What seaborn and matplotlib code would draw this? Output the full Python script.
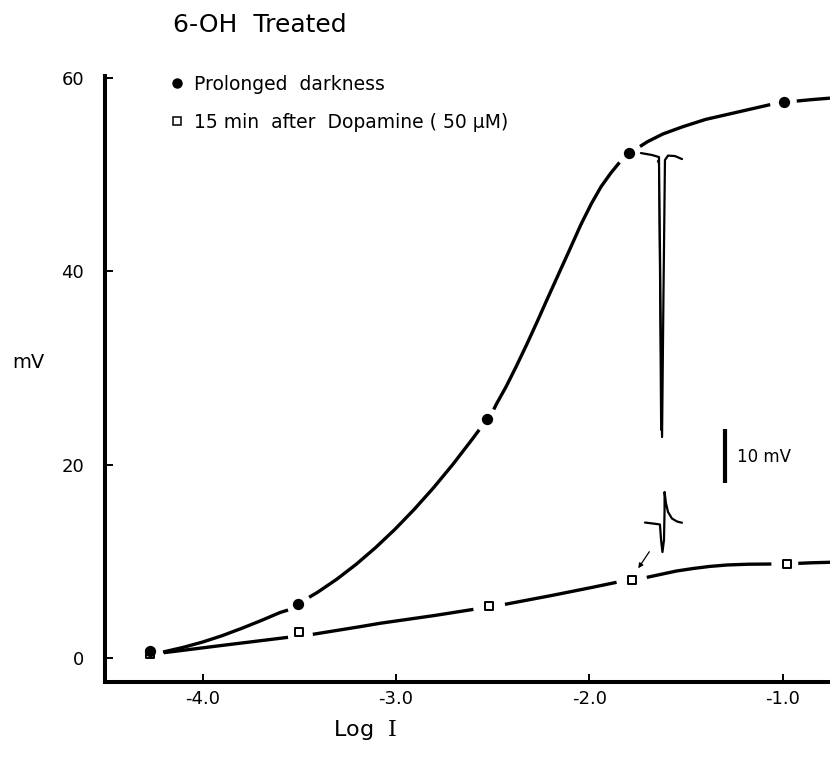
import matplotlib
matplotlib.use("Agg")
import matplotlib.pyplot as plt
import seaborn as sns
from matplotlib.lines import Line2D

# ---- data ----
dark_x = [-4.27, -3.506, -2.531, -1.794, -0.995]
dark_y = [0.75, 5.6, 24.7, 52.2, 57.5]
dopa_x = [-4.27, -3.50, -2.518, -1.782, -0.978]
dopa_y = [0.45, 2.66, 5.38, 8.07, 9.69]

# hand-drawn curves, read piece by piece (they break around each symbol)
dark_curve_x = [
    [-4.204, -4.10, -4.00, -3.90, -3.80, -3.70, -3.60, -3.558],
    [-3.449, -3.406, -3.306, -3.206, -3.106, -3.006, -2.906, -2.806, -2.706, -2.606, -2.57],
    [-2.495, -2.48, -2.43, -2.38, -2.325, -2.27, -2.221, -2.16, -2.101, -2.045, -1.99,
     -1.94, -1.89, -1.845],
    [-1.739, -1.70, -1.62, -1.517, -1.40, -1.258, -1.16, -1.066],
    [-0.929, -0.85, -0.757],
]
dark_curve_y = [
    [0.62, 1.10, 1.65, 2.30, 3.05, 3.85, 4.70, 4.96],
    [6.28, 6.79, 8.15, 9.69, 11.41, 13.30, 15.37, 17.61, 20.03, 22.63, 23.60],
    [25.70, 26.30, 28.10, 30.10, 32.40, 34.80, 37.00, 39.70, 42.30, 44.80, 47.00,
     48.75, 50.15, 51.25],
    [52.90, 53.40, 54.20, 54.95, 55.70, 56.35, 56.80, 57.23],
    [57.60, 57.75, 57.90],
]

dopa_curve_x = [
    [-4.20, -3.90, -3.558],
    [-3.43, -3.186, -3.083, -2.80, -2.60],
    [-2.437, -2.20, -2.00, -1.86],
    [-1.704, -1.62, -1.55, -1.46, -1.38, -1.29, -1.18, -1.06],
    [-0.921, -0.85, -0.757],
]
dopa_curve_y = [
    [0.55, 1.30, 2.14],
    [2.45, 3.24, 3.59, 4.40, 5.03],
    [5.55, 6.45, 7.25, 7.83],
    [8.34, 8.70, 9.00, 9.27, 9.47, 9.62, 9.70, 9.72],
    [9.79, 9.85, 9.90],
]

# inset response traces (drawn in axis units)
spike_x = [-1.734, -1.677, -1.641, -1.633, -1.625, -1.618, -1.610, -1.594, -1.558, -1.522]
spike_y = [52.22, 52.02, 51.81, 37.02, 22.85, 37.02, 51.50, 51.96, 51.91, 51.60]
spike2_x = [-1.648, -1.641, -1.631]
spike2_y = [51.40, 51.14, 23.58]
small_x = [-1.713, -1.672, -1.636, -1.630, -1.623, -1.615, -1.612, -1.612, -1.605, -1.594,
           -1.574, -1.548, -1.522]
small_y = [14.01, 13.91, 13.81, 12.20, 10.96, 12.20, 15.31, 17.17, 16.03, 15.10,
           14.43, 14.12, 13.99]

xticks = [-4.0, -3.0, -2.0, -1.0]
xticklabels = ["-4.0", "-3.0", "-2.0", "-1.0"]
yticks = [0, 20, 40, 60]
yticklabels = ["0", "20", "40", "60"]

legend_labels = ["Prolonged  darkness", "15 min  after  Dopamine ( 50 \u00b5M)"]

# ---- figure ----
sns.set_style("ticks")
plt.rcParams["font.family"] = ["DejaVu Sans"]
plt.rcParams["mathtext.fontset"] = "dejavuserif"
for k in ["text.color", "axes.labelcolor", "xtick.color", "ytick.color", "axes.edgecolor"]:
    plt.rcParams[k] = "black"

fig = plt.figure(figsize=(8.30, 7.59), dpi=100)
ax = fig.add_axes([105 / 830, 1 - 682 / 759, 1 - 105 / 830, (682 - 76) / 759])

lw = 2.4
for xs, ys in zip(dark_curve_x + dopa_curve_x, dark_curve_y + dopa_curve_y):
    sns.lineplot(x=xs, y=ys, sort=False, estimator=None, color="black", lw=lw,
                 solid_capstyle="butt", ax=ax, zorder=2)

sns.scatterplot(x=dopa_x, y=dopa_y, marker="s", s=40, color="white", edgecolor="black",
                linewidth=1.4, ax=ax, zorder=4)
sns.scatterplot(x=dark_x, y=dark_y, marker="o", s=66, color="black", edgecolor="black",
                linewidth=0, ax=ax, zorder=5)

# response traces
sns.lineplot(x=spike_x, y=spike_y, sort=False, estimator=None, color="black", lw=1.6,
             ax=ax, zorder=2)
sns.lineplot(x=spike2_x, y=spike2_y, sort=False, estimator=None, color="black", lw=1.2,
             ax=ax, zorder=2)
sns.lineplot(x=small_x, y=small_y, sort=False, estimator=None, color="black", lw=1.6,
             ax=ax, zorder=2)
ax.annotate("", xy=(-1.748, 9.28), xytext=(-1.691, 10.99),
            arrowprops=dict(arrowstyle="-|>", color="black", lw=0.9, mutation_scale=7,
                            shrinkA=0, shrinkB=0))

# scale bar
ax.plot([-1.300, -1.300], [18.13, 23.65], color="black", lw=3, solid_capstyle="butt")
ax.text(-1.238, 20.8, "10 mV", fontsize=12, va="center", ha="left")

ax.set_xlim(-4.504, -0.757)
ax.set_ylim(-2.48, 60.19)
ax.set_xticks(xticks)
ax.set_xticklabels(xticklabels)
ax.set_yticks(yticks)
ax.set_yticklabels(yticklabels)
ax.tick_params(axis="both", direction="in", length=6, width=1.4, labelsize=13,
               color="black", labelcolor="black")
ax.tick_params(axis="y", pad=15)
ax.tick_params(axis="x", pad=6)
for s in ["top", "right"]:
    ax.spines[s].set_visible(False)
for s in ["left", "bottom"]:
    ax.spines[s].set_linewidth(2.9)
    ax.spines[s].set_color("black")

ax.set_xlabel(r"Log  $\mathrm{I}$", fontsize=16, va="center", ha="right")
ax.xaxis.set_label_coords((397 - 105) / 725, (682 - 730) / 606)
ax.set_ylabel("mV", fontsize=14, rotation=0, va="center", ha="center")
ax.yaxis.set_label_coords((28 - 105) / 725, (682 - 362) / 606)

handles = [Line2D([], [], ls="", marker="o", color="black", ms=6.5),
           Line2D([], [], ls="", marker="s", mfc="white", mec="black", ms=5.5, mew=1.1)]
ax.legend(handles, legend_labels, loc="upper left", bbox_to_anchor=(170 / 830, 1 - 75 / 759),
          bbox_transform=fig.transFigure, frameon=False, fontsize=13.5, handlelength=0.7,
          handletextpad=0.6, labelspacing=1.0, borderpad=0, borderaxespad=0)

fig.text(173 / 830, 1 - 25 / 759, "6-OH  Treated", fontsize=18, va="center", ha="left")

fig.savefig("out.png", dpi=100)
